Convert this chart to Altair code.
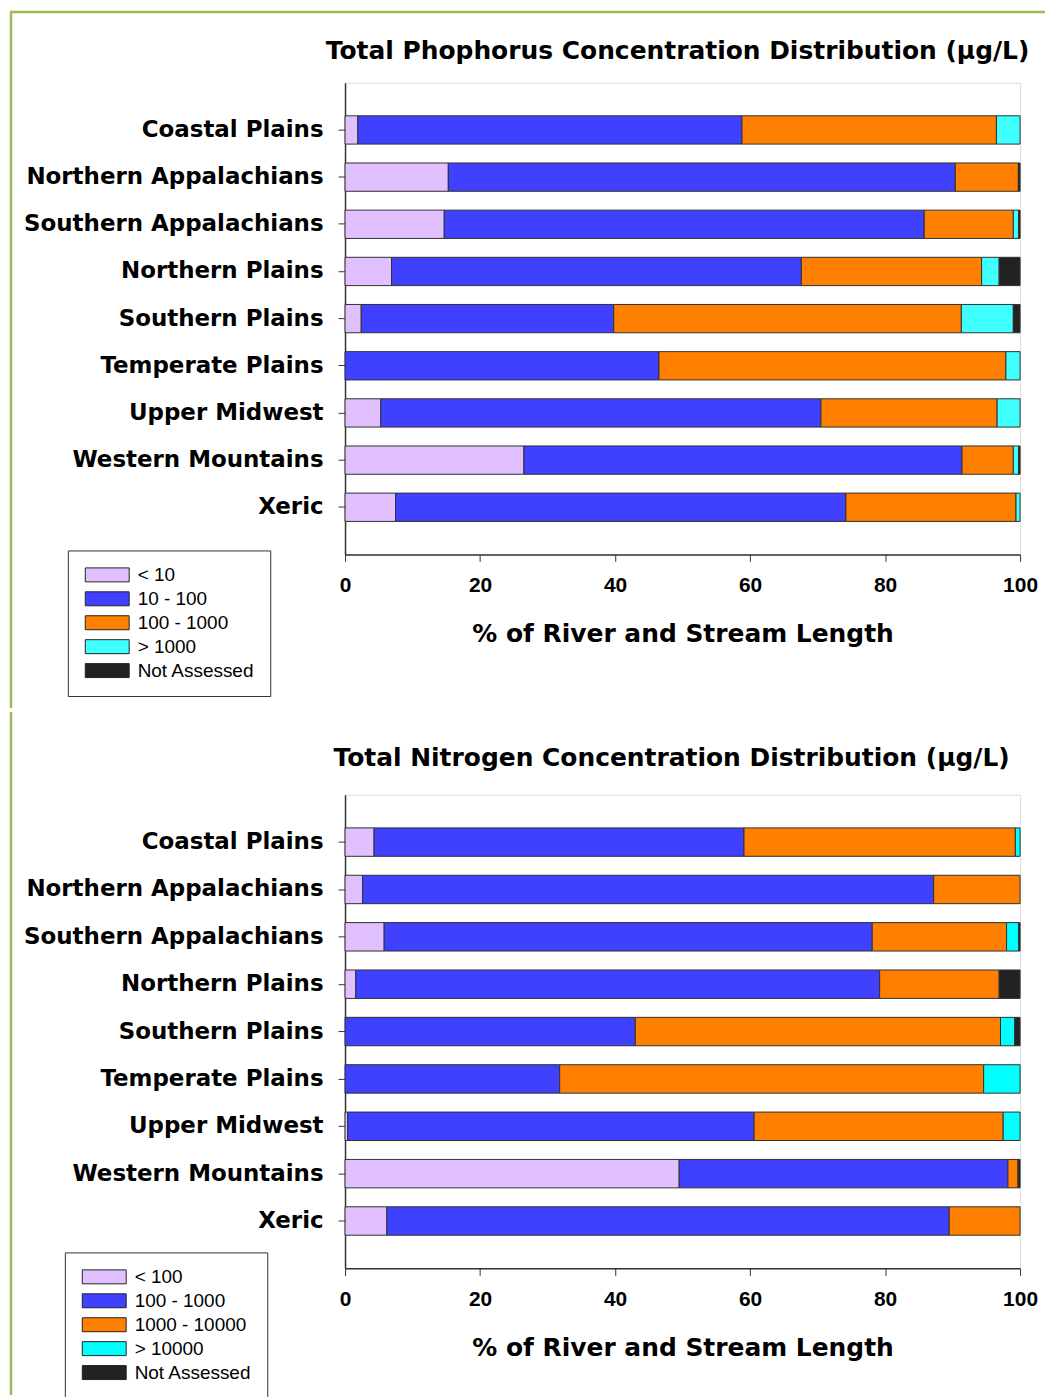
import altair as alt
import pandas as pd

regions = ["Coastal Plains", "Northern Appalachians", "Southern Appalachians",
           "Northern Plains", "Southern Plains", "Temperate Plains",
           "Upper Midwest", "Western Mountains", "Xeric"]

tp_title = "Total Phophorus Concentration Distribution (µg/L)"
tn_title = "Total Nitrogen Concentration Distribution (µg/L)"
x_title = "% of River and Stream Length"
x_ticks = [0, 20, 40, 60, 80, 100]

tp_classes = ["< 10", "10 - 100", "100 - 1000", "> 1000", "Not Assessed"]
tn_classes = ["< 100", "100 - 1000", "1000 - 10000", "> 10000", "Not Assessed"]
tp_colors = ["#E0C0FF", "#4040FF", "#FF8000", "#40FFFF", "#222222"]
tn_colors = ["#E0C0FF", "#4040FF", "#FF8000", "#00FFFF", "#222222"]

# Total phosphorus (% of length)
tp_lt10 = [1.9, 15.3, 14.7, 6.9, 2.4, 0.0, 5.3, 26.5, 7.5]
tp_10_100 = [56.9, 75.1, 71.1, 60.7, 37.4, 46.5, 65.2, 64.9, 66.7]
tp_100_1000 = [37.7, 9.35, 13.2, 26.7, 51.5, 51.4, 26.1, 7.6, 25.2]
tp_gt1000 = [3.5, 0.0, 0.8, 2.6, 7.7, 2.1, 3.4, 0.8, 0.6]
tp_na = [0.0, 0.25, 0.2, 3.1, 1.0, 0.0, 0.0, 0.2, 0.0]

# Total nitrogen (% of length)
tn_lt100 = [4.3, 2.6, 5.8, 1.6, 0.0, 0.0, 0.4, 49.5, 6.2]
tn_100_1000 = [54.8, 84.6, 72.3, 77.6, 43.0, 31.8, 60.2, 48.7, 83.3]
tn_1000_10000 = [40.2, 12.8, 19.9, 17.7, 54.1, 62.8, 36.9, 1.5, 10.5]
tn_gt10000 = [0.7, 0.0, 1.8, 0.0, 2.1, 5.4, 2.5, 0.0, 0.0]
tn_na = [0.0, 0.0, 0.2, 3.1, 0.8, 0.0, 0.0, 0.3, 0.0]

LABEL_FONT = "DejaVu Sans"
TICK_FONT = "Liberation Sans"
GREEN = "#9BBB59"


def table(classes, series):
    rows = []
    for ci, (cls, vals) in enumerate(zip(classes, series)):
        for r, v in zip(regions, vals):
            if v > 0:
                rows.append({"region": r, "cls": cls, "ord": ci, "pct": v})
    return pd.DataFrame(rows)


def panel(title, classes, colors, series, w, h, tx, ty, lx, ly,
          fl, ft, fb, fr=None):
    df = table(classes, series)
    bars = alt.Chart(df).mark_bar(stroke="#303030", strokeWidth=1).encode(
        x=alt.X("pct:Q", stack="zero",
                scale=alt.Scale(domain=[0, 100], nice=False),
                axis=alt.Axis(values=x_ticks, title=x_title, format="d", grid=False,
                              labelFlush=False, tickSize=7, labelPadding=13,
                              labelFont=TICK_FONT, labelFontSize=21, labelFontWeight="bold",
                              labelColor="black",
                              titleFont=LABEL_FONT, titleFontSize=25, titleFontWeight="bold",
                              titleColor="black", titleY=87, titleBaseline="alphabetic",
                              domainColor="#333333", tickColor="#333333", domainWidth=1.5)),
        y=alt.Y("region:N", sort=regions,
                scale=alt.Scale(paddingInner=0.4, paddingOuter=0.7),
                axis=alt.Axis(title=None, tickSize=7, labelPadding=15,
                              labelFont=LABEL_FONT, labelFontSize=23, labelFontWeight="bold",
                              labelColor="black", labelLimit=400,
                              domainColor="#333333", tickColor="#333333", domainWidth=1.5)),
        color=alt.Color("cls:N", scale=alt.Scale(domain=classes, range=colors),
                        legend=alt.Legend(title=None, orient="none", legendX=lx, legendY=ly,
                                          symbolType="M-1,-1H5.29V1H-1Z", symbolSize=196,
                                          symbolStrokeColor="#222222", symbolStrokeWidth=1,
                                          symbolOpacity=1, labelFont=TICK_FONT, labelFontSize=19,
                                          labelColor="black", labelOffset=36, rowPadding=4,
                                          padding=15, strokeColor="#333333", fillColor="white")),
        order=alt.Order("ord:Q"),
    )
    ttl = alt.Chart(pd.DataFrame({"t": [title]})).mark_text(
        font=LABEL_FONT, fontSize=25, fontWeight="bold", align="center",
        baseline="alphabetic", color="black"
    ).encode(text="t:N", x=alt.value(tx), y=alt.value(ty))
    fdf = pd.DataFrame({"f": [0]})
    layers = [bars, ttl,
              alt.Chart(fdf).mark_rule(color=GREEN, strokeWidth=2.5).encode(
                  x=alt.value(fl), y=alt.value(ft), y2=alt.value(fb))]
    if fr is not None:
        layers.append(alt.Chart(fdf).mark_rule(color=GREEN, strokeWidth=2.5).encode(
            x=alt.value(fl - 1), x2=alt.value(fr), y=alt.value(ft)))
    return alt.layer(*layers).properties(width=w, height=h)


top = panel(tp_title, tp_classes, tp_colors,
            [tp_lt10, tp_10_100, tp_100_1000, tp_gt1000, tp_na],
            677, 473, 333.5, -24, -278, 469, -335, -71, 627, 702)
bottom = panel(tn_title, tn_classes, tn_colors,
               [tn_lt100, tn_100_1000, tn_1000_10000, tn_gt10000, tn_na],
               677, 475, 327.5, -29, -281, 459, -335, -83, 602)

chart = alt.vconcat(top, bottom, spacing=0).resolve_scale(color="independent").properties(
    padding=0
).configure_view(stroke="#777777", strokeWidth=1.5).configure(background="white")

chart.save("out.html", embed_options={"renderer": "svg", "actions": False})
